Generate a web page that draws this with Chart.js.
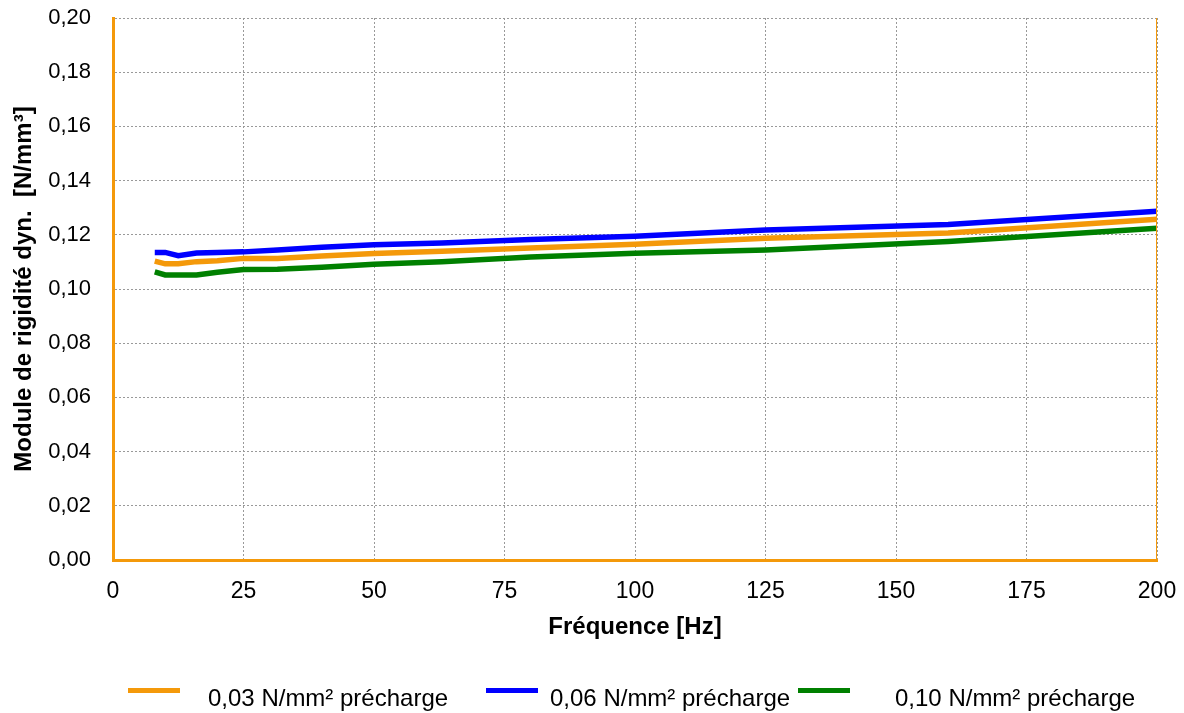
<!DOCTYPE html>
<html lang="fr">
<head>
<meta charset="utf-8">
<title>Module de rigidité dynamique</title>
<script src="https://cdn.jsdelivr.net/npm/chart.js@4/dist/chart.umd.min.js"></script>
<style>
    html, body { margin: 0; padding: 0; background: #fff; }
    #wrap { position: relative; width: 1184px; height: 713px; font-family: 'Liberation Sans', Arial, sans-serif; }
    #legend { position: absolute; left: 0; top: 682px; width: 1184px; height: 30px; font-size: 24px; line-height: 24px; color: #000; }
    #legend .sample { position: absolute; top: 6px; height: 5px; width: 52px; }
    #legend .label { position: absolute; top: 4px; white-space: nowrap; }
</style>
</head>
<body>
<div id="wrap">
    <canvas id="stiffnessChart" width="1184" height="713"></canvas>
    <div id="legend"></div>
</div>
<script>
// Fréquences de mesure (Hz)
const frequencies = [8, 10, 12.5, 16, 20, 25, 31.5, 40, 50, 63, 80, 100, 125, 160, 200];

// Module de rigidité dynamique (N/mm³) par précharge
const preload003 = [0.1103, 0.1093, 0.1093, 0.1101, 0.1104, 0.1113, 0.1113, 0.1122, 0.1131, 0.1139, 0.1151, 0.1165, 0.1187, 0.1207, 0.1257];
const preload006 = [0.1135, 0.1135, 0.1123, 0.1133, 0.1135, 0.1137, 0.1144, 0.1154, 0.1163, 0.1170, 0.1183, 0.1195, 0.1218, 0.1238, 0.1287];
const preload010 = [0.1063, 0.1052, 0.1052, 0.1052, 0.1062, 0.1072, 0.1073, 0.1080, 0.1091, 0.1101, 0.1118, 0.1132, 0.1144, 0.1175, 0.1224];

const seriesLabels = ['0,03 N/mm² précharge', '0,06 N/mm² précharge', '0,10 N/mm² précharge'];
const seriesColors = ['#F4990A', '#0000FF', '#008000'];

const orange = '#F4990A';
const fontFamily = "'Liberation Sans', Arial, sans-serif";

function toPoints(values) {
    return frequencies.map(function (f, i) { return {x: f, y: values[i]}; });
}

// Bord droit fin de la zone de tracé
const rightFrame = {
    id: 'rightFrame',
    afterDraw: function (chart) {
        const area = chart.chartArea;
        const ctx = chart.ctx;
        ctx.save();
        ctx.strokeStyle = orange;
        ctx.lineWidth = 1;
        ctx.beginPath();
        ctx.moveTo(area.right - 0.5, area.top);
        ctx.lineTo(area.right - 0.5, area.bottom);
        ctx.stroke();
        ctx.restore();
    }
};

const gridStyle = {color: '#999999', lineWidth: 1, drawTicks: false};

new Chart(document.getElementById('stiffnessChart'), {
    type: 'line',
    data: {
        datasets: [preload003, preload006, preload010].map(function (values, i) {
            return {
                label: seriesLabels[i],
                data: toPoints(values),
                borderColor: seriesColors[i],
                backgroundColor: seriesColors[i],
                borderWidth: 5.5,
                pointRadius: 0,
                tension: 0,
                fill: false
            };
        })
    },
    options: {
        responsive: false,
        animation: false,
        layout: {padding: {left: 0, right: 27, top: 18, bottom: 71}},
        plugins: {
            legend: {display: false},
            tooltip: {enabled: false}
        },
        scales: {
            x: {
                type: 'linear',
                min: 0,
                max: 200,
                grid: gridStyle,
                border: {color: orange, width: 3, dash: [2, 2]},
                ticks: {
                    stepSize: 25,
                    padding: 18,
                    color: '#000',
                    maxRotation: 0,
                    font: {family: fontFamily, size: 23}
                },
                title: {
                    display: true,
                    text: 'Fréquence [Hz]',
                    color: '#000',
                    padding: {top: 0, bottom: 0},
                    font: {family: fontFamily, size: 24, weight: 'bold'}
                },
                afterFit: function (axis) {
                    axis.height = 82;
                    axis.paddingLeft = 0;
                    axis.paddingRight = 0;
                }
            },
            y: {
                min: 0,
                max: 0.2,
                grid: gridStyle,
                border: {color: orange, width: 3, dash: [2, 2]},
                ticks: {
                    stepSize: 0.02,
                    padding: 22,
                    color: '#000',
                    font: {family: fontFamily, size: 22},
                    callback: function (value) { return value.toFixed(2).replace('.', ','); }
                },
                title: {
                    display: true,
                    text: 'Module de rigidité dyn.  [N/mm³]',
                    color: '#000',
                    padding: {top: 10, bottom: 0},
                    font: {family: fontFamily, size: 24, weight: 'bold'}
                },
                afterFit: function (axis) {
                    axis.width = 113;
                    axis.paddingTop = 0;
                    axis.paddingBottom = 0;
                }
            }
        }
    },
    plugins: [rightFrame]
});

// Légende (positions reprises de l'original)
const legendSampleX = [128, 486, 798];
const legendTextX = [208, 550, 895];
const legend = document.getElementById('legend');
seriesLabels.forEach(function (label, i) {
    const sample = document.createElement('div');
    sample.className = 'sample';
    sample.style.left = legendSampleX[i] + 'px';
    sample.style.background = seriesColors[i];
    legend.appendChild(sample);

    const text = document.createElement('div');
    text.className = 'label';
    text.style.left = legendTextX[i] + 'px';
    text.textContent = label;
    legend.appendChild(text);
});
</script>
</body>
</html>
